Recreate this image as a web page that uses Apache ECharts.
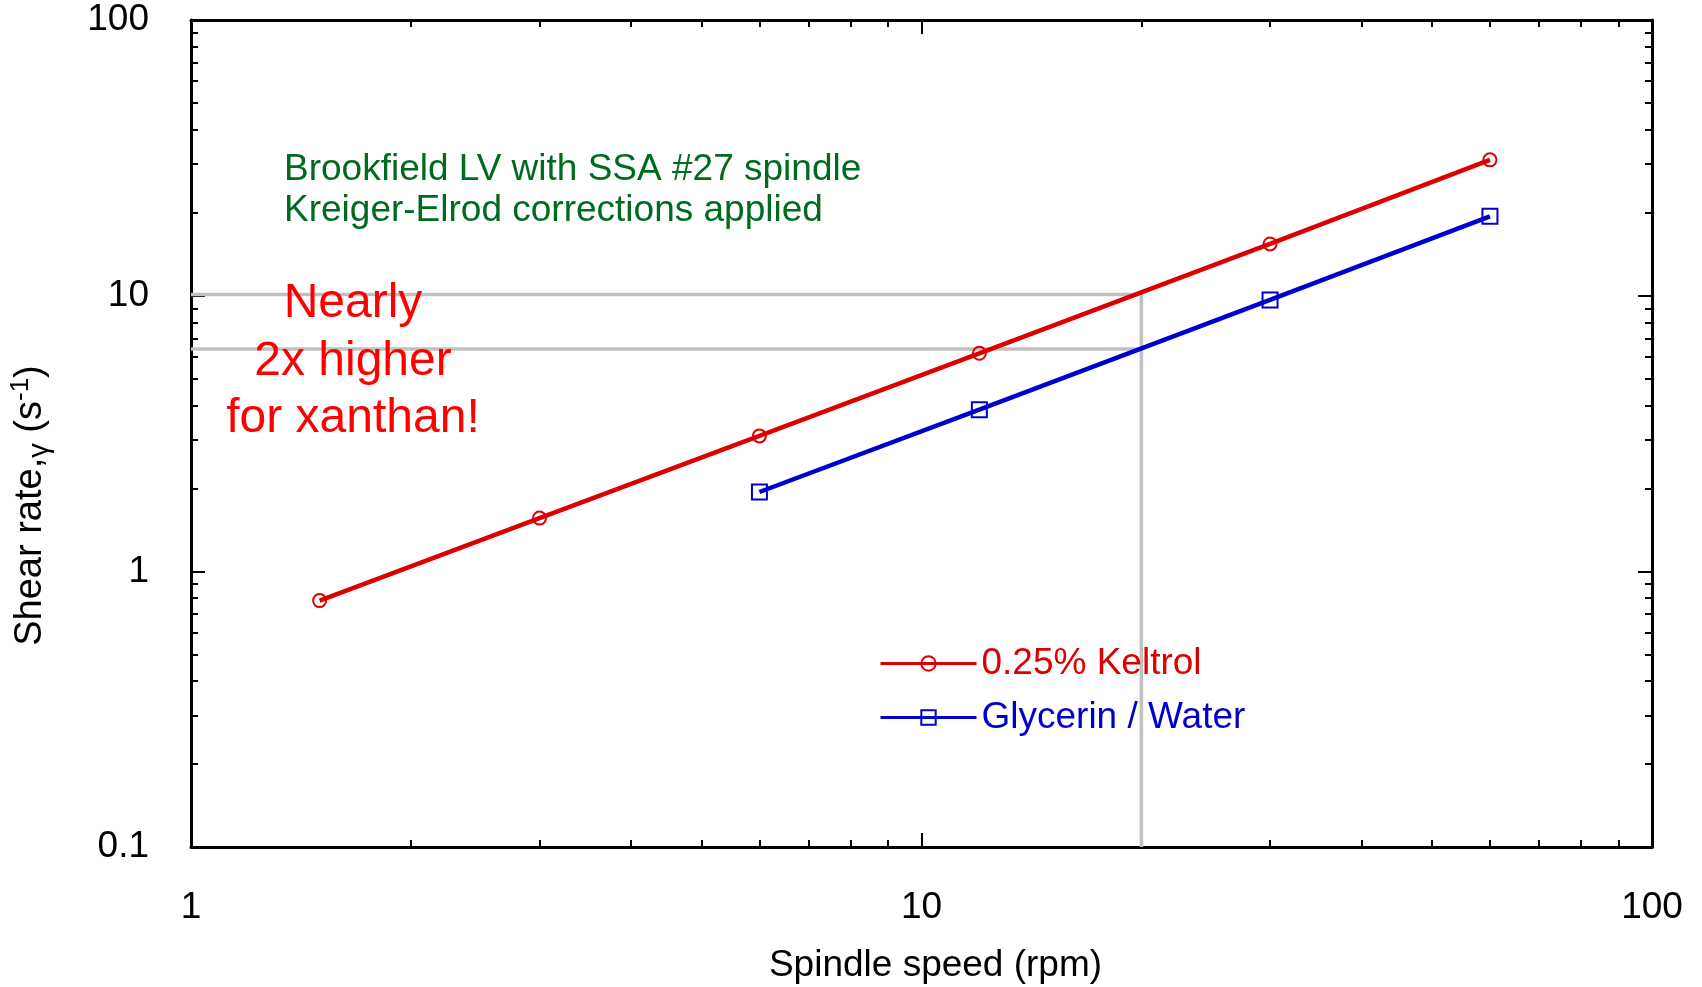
<!DOCTYPE html>
<html>
<head>
<meta charset="utf-8">
<script src="https://cdn.jsdelivr.net/npm/echarts@6/dist/echarts.min.js"></script>
<style>
  html, body { margin: 0; padding: 0; background: #fff; }
  #chart { width: 1702px; height: 987px; }
</style>
</head>
<body>
<div id="chart"></div>
<script>
// Shear rate vs spindle speed, Brookfield LV / SSA #27
const speedKeltrol = [1.5, 3, 6, 12, 30, 60];
const rateKeltrol = [0.783, 1.56, 3.10, 6.18, 15.4, 31.1];
const speedGlycerin = [6, 12, 30, 60];
const rateGlycerin = [1.94, 3.86, 9.65, 19.4];

// reference guide at 20 rpm
const refSpeed = 20;
const refRateKeltrol = 10.1;
const refRateGlycerin = 6.4;

const xMajor = [1, 10, 100];
const xMinor = [2, 3, 4, 5, 6, 7, 8, 9, 20, 30, 40, 50, 60, 70, 80, 90];
const yMajor = [0.1, 1, 10, 100];
const yMinor = [0.2, 0.3, 0.4, 0.5, 0.6, 0.7, 0.8, 0.9, 2, 3, 4, 5, 6, 7, 8, 9, 20, 30, 40, 50, 60, 70, 80, 90];

const seriesNames = ['0.25% Keltrol', 'Glycerin / Water'];
const noteLines = ['Brookfield LV with SSA #27 spindle', 'Kreiger-Elrod corrections applied'];
const calloutLines = ['Nearly', '2x higher', 'for xanthan!'];

const FONT = '"Liberation Sans", Arial, Helvetica, sans-serif';
const RED = '#dd0000';
const BLUE = '#0000cc';
const GREEN = '#006b1f';
const GRAY = '#c0c0c0';

function pairs(xs, ys) { return xs.map((x, i) => [x, ys[i]]); }

function axisBase(extra) {
  return Object.assign({
    type: 'log', logBase: 10,
    splitLine: { show: false },
    axisLine: { show: false },
    axisLabel: { show: false },
    axisTick: { show: true, inside: true, length: 7, lineStyle: { color: '#000', width: 2 } }
  }, extra);
}

function majorAxis(pos, min, max, major, withLabels) {
  const ax = axisBase({
    position: pos, min: min, max: max,
    axisLine: { show: true, onZero: false, lineStyle: { color: '#000', width: 3 } },
    axisTick: { show: true, inside: true, length: 14, customValues: major, lineStyle: { color: '#000', width: 2 } }
  });
  if (withLabels) {
    ax.axisLabel = {
      show: true, customValues: major, color: '#000', fontSize: 37, fontFamily: FONT, margin: 42,
      formatter: v => String(v)
    };
  }
  return ax;
}

function minorAxis(pos, min, max, minor) {
  return axisBase({
    position: pos, min: min, max: max,
    axisTick: { show: true, inside: true, length: 7, customValues: minor, lineStyle: { color: '#000', width: 2 } }
  });
}

const xMain = majorAxis('bottom', 1, 100, xMajor, true);
xMain.name = 'Spindle speed (rpm)';
xMain.nameLocation = 'middle';
xMain.nameGap = 100;
xMain.nameTextStyle = { color: '#000', fontSize: 37, fontFamily: FONT, padding: [0, 0, 0, 28] };

const yMain = majorAxis('left', 0.1, 100, yMajor, true);
yMain.name = 'Shear rate,{g|γ} (s{s|-1})';
yMain.nameLocation = 'middle';
yMain.nameGap = 137;
yMain.nameTextStyle = {
  color: '#000', fontSize: 38, fontFamily: FONT, padding: [0, 144, 0, 0],
  rich: {
    g: { fontSize: 29, fontFamily: FONT, color: '#000', padding: [18, 0, 0, 0] },
    s: { fontSize: 26, fontFamily: FONT, color: '#000', padding: [0, 0, 20, 0] }
  }
};

const option = {
  backgroundColor: '#fff',
  animation: false,
  grid: { left: 191, right: 50, top: 20, bottom: 140, containLabel: false, outerBoundsMode: 'none' },
  xAxis: [
    xMain,
    minorAxis('bottom', 1, 100, xMinor),
    majorAxis('top', 1, 100, xMajor, false),
    minorAxis('top', 1, 100, xMinor)
  ],
  yAxis: [
    yMain,
    minorAxis('left', 0.1, 100, yMinor),
    majorAxis('right', 0.1, 100, yMajor, false),
    minorAxis('right', 0.1, 100, yMinor)
  ],
  legend: {
    orient: 'vertical', left: 874, top: 640,
    itemWidth: 96, itemHeight: 18, itemGap: 17,
    lineStyle: { width: 3 },
    itemStyle: { borderWidth: 2 },
    textStyle: { fontSize: 37, fontFamily: FONT },
    data: [
      { name: seriesNames[0], textStyle: { color: RED } },
      { name: seriesNames[1], textStyle: { color: BLUE } }
    ]
  },
  series: [
    {
      name: 'ref-upper', type: 'line', z: 1, silent: true, symbol: 'none',
      data: [[1, refRateKeltrol], [refSpeed, refRateKeltrol], [refSpeed, 0.1]],
      lineStyle: { color: GRAY, width: 3.5 }
    },
    {
      name: 'ref-lower', type: 'line', z: 1, silent: true, symbol: 'none',
      data: [[1, refRateGlycerin], [refSpeed, refRateGlycerin]],
      lineStyle: { color: GRAY, width: 3.5 }
    },
    {
      name: seriesNames[0], type: 'line', z: 3,
      data: pairs(speedKeltrol, rateKeltrol),
      symbol: 'circle', symbolSize: 13,
      lineStyle: { color: RED, width: 4.5 },
      itemStyle: { color: 'rgba(0,0,0,0)', borderColor: RED, borderWidth: 2 }
    },
    {
      name: seriesNames[1], type: 'line', z: 3,
      data: pairs(speedGlycerin, rateGlycerin),
      symbol: 'rect', symbolSize: 15,
      lineStyle: { color: BLUE, width: 4.5 },
      itemStyle: { color: 'rgba(0,0,0,0)', borderColor: BLUE, borderWidth: 2 }
    }
  ],
  graphic: [
    ...noteLines.map((t, i) => ({
      type: 'text', left: 284, top: 151 + i * 41, z: 10,
      style: { text: t, fill: GREEN, font: '37px ' + FONT }
    })),
    ...calloutLines.map((t, i) => ({
      type: 'text', x: 353, y: 304 + i * 57.5, z: 10,
      style: {
        text: t, fill: '#ff0000', font: '48px ' + FONT,
        align: 'center', verticalAlign: 'middle', textAlign: 'center', textVerticalAlign: 'middle'
      }
    }))
  ]
};

const chart = echarts.init(document.getElementById('chart'), null, { renderer: 'canvas' });
chart.setOption(option);
</script>
</body>
</html>
